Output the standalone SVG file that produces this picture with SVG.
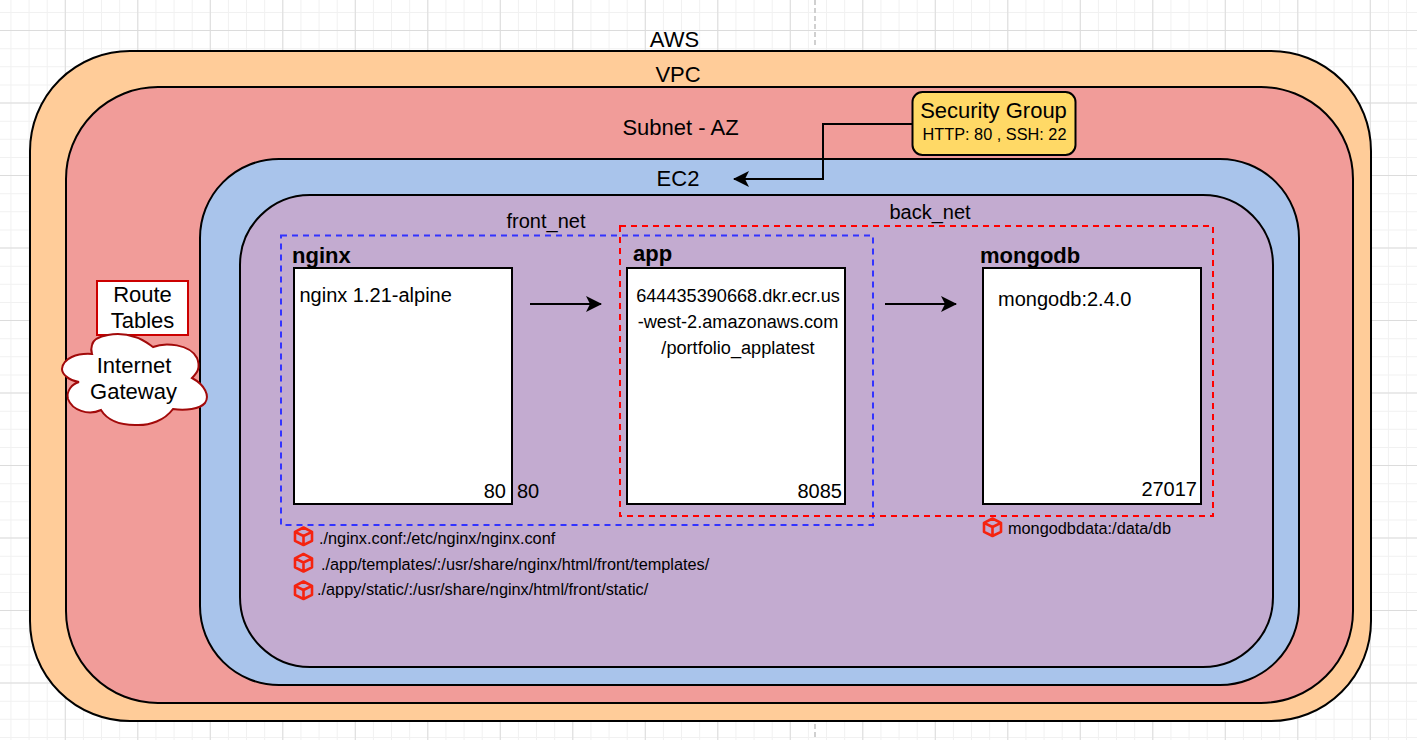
<svg xmlns="http://www.w3.org/2000/svg" width="1417" height="740" viewBox="0 0 1417 740">
<style>
text{font-family:"Liberation Sans",Arial,sans-serif;fill:#000}
.t22{font-size:22px}.t20{font-size:20px}.t18{font-size:18.15px}.t16{font-size:16.3px}
.b{font-weight:bold}.m{text-anchor:middle}.e{text-anchor:end}
.zone{stroke:#000;stroke-width:2}
.box{fill:#fff;stroke:#000;stroke-width:2}
.conn{fill:none;stroke:#000;stroke-width:2}
.net{fill:none;stroke-width:2;stroke-dasharray:6 5}
.cube{fill:none;stroke:#f5230f;stroke-width:2.6;stroke-linejoin:round}
.gridMinor{fill:none;stroke:#f1f1f1;stroke-dasharray:1 17.125}
.gridMajor{fill:none;stroke:#dcdcdc;stroke-dasharray:1 71.5}
</style>
<defs>
<marker id="arrow" markerUnits="userSpaceOnUse" markerWidth="18" markerHeight="18" refX="15" refY="8" orient="auto"><path d="M0 0L16 8L0 16L4 8Z" fill="#000"/></marker>
<g id="cubeIcon"><path class="cube" d="M0 -8.500L8.500 -4.200V4.800L0 9L-8.500 4.800V-4.200ZM-8.500 -4.200L0 0L8.500 -4.200M0 0V9"/></g>
</defs>
<g id="background">
<rect width="1417" height="740" fill="#fff"/>
<path class="gridMinor" d="M10.425 370H1417" stroke-width="740"/>
<path class="gridMinor" d="M708.500 11.875V740" stroke-width="1417"/>
<path class="gridMajor" d="M64.800 370H1417" stroke-width="740"/>
<path class="gridMajor" d="M708.500 30V740" stroke-width="1417"/>
<path d="M815 0V48M815 724V740" stroke="#d0d0d0" stroke-width="2" stroke-dasharray="5 3" fill="none"/>
</g>
<g id="aws"><rect class="zone" x="30" y="51" width="1341" height="670" rx="100" fill="#ffcc99"/><text class="t22 m" x="674.500" y="47">AWS</text></g>
<g id="vpc"><rect class="zone" x="66" y="87" width="1287" height="616" rx="92" fill="#f19c99"/><text class="t22 m" x="678" y="82">VPC</text></g>
<g id="subnet"><text class="t22 m" x="680.500" y="135">Subnet - AZ</text></g>
<g id="ec2"><rect class="zone" x="200" y="159" width="1099" height="526" rx="79" fill="#a9c4eb"/><text class="t22 m" x="678" y="186">EC2</text></g>
<g id="host"><rect class="zone" x="240" y="195" width="1033" height="472" rx="70" fill="#c3abd0"/></g>
<g id="nginx"><rect class="box" x="294" y="268" width="218" height="236"/><text class="t22 b" x="292" y="263">nginx</text><text class="t20" x="299.500" y="302">nginx 1.21-alpine</text><text class="t20 e" x="506" y="498">80</text><text class="t20" x="517" y="498">80</text></g>
<g id="app"><rect class="box" x="627" y="268" width="218" height="236"/><text class="t22 b" x="633" y="261">app</text><text class="t18 m" x="738" y="302">644435390668.dkr.ecr.us</text><text class="t18 m" x="738" y="328">-west-2.amazonaws.com</text><text class="t18 m" x="738" y="354">/portfolio_applatest</text><text class="t20 e" x="842" y="498">8085</text></g>
<g id="mongodb"><rect class="box" x="983" y="268" width="218" height="236"/><text class="t22 b" x="980" y="263">mongodb</text><text class="t20" x="998" y="306">mongodb:2.4.0</text><text class="t20 e" x="1197" y="496">27017</text></g>
<g id="front_net"><rect class="net" x="281" y="235.500" width="592" height="289.500" stroke="#3333ff"/><text class="t20 m" x="546" y="228">front_net</text></g>
<g id="back_net"><rect class="net" x="620" y="226" width="593" height="290" stroke="#ff0000"/><text class="t20 m" x="930" y="219">back_net</text></g>
<g id="connectors">
<path class="conn" d="M530 304H601" marker-end="url(#arrow)"/>
<path class="conn" d="M885 304H956" marker-end="url(#arrow)"/>
<path class="conn" d="M912 124H823V179H734" marker-end="url(#arrow)"/>
</g>
<g id="security-group"><rect x="912.500" y="92" width="163" height="63" rx="10" fill="#ffd966" stroke="#000" stroke-width="2"/><text class="t22 m" x="993.500" y="118">Security Group</text><text class="t16 m" x="994.500" y="140">HTTP: 80 , SSH: 22</text></g>
<g id="route-tables"><rect x="97" y="281" width="91" height="54" fill="#fff" stroke="#cc0000" stroke-width="2"/><text class="t22 m" x="142.500" y="302">Route</text><text class="t22 m" x="142.500" y="328">Tables</text></g>
<g id="internet-gateway"><path d="M92 345C94 335 118 331 135 337C143 339 150 345 153 347C165 342 190 344 197 358C201 368 197 373 192 378C205 385 210 396 205 403C200 409 185 411 173 409C165 420 150 426 135 425C120 425 107 420 101 410C88 416 72 410 68 399C66 391 72 384 79 382C68 380 62 374 62 369C63 358 77 353 92 354C91 351 91 348 92 345Z" fill="#fff" stroke="#a20a0a" stroke-width="2"/><text class="t22 m" x="134" y="373">Internet</text><text class="t22 m" x="133.500" y="399">Gateway</text></g>
<g id="volumes">
<use href="#cubeIcon" x="303.500" y="536"/><text class="t16" x="319" y="544">./nginx.conf:/etc/nginx/nginx.conf</text>
<use href="#cubeIcon" x="303.500" y="562.500"/><text class="t16" x="321" y="570">./app/templates/:/usr/share/nginx/html/front/templates/</text>
<use href="#cubeIcon" x="303.500" y="590"/><text class="t16" x="317" y="595">./appy/static/:/usr/share/nginx/html/front/static/</text>
<use href="#cubeIcon" x="992.500" y="527"/><text class="t16" x="1008" y="534">mongodbdata:/data/db</text>
</g>
</svg>
